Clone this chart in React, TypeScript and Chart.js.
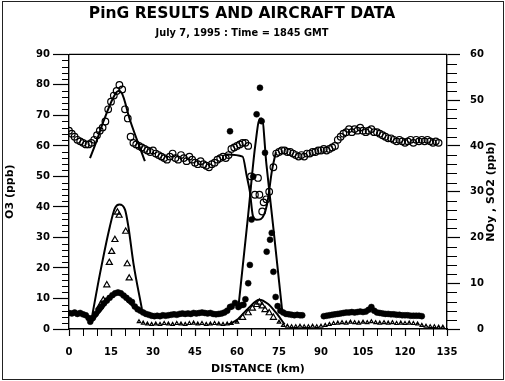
import React, { useEffect, useRef } from "react";
import { Chart, registerables } from "chart.js";

Chart.register(...registerables);

const TITLE = "PinG RESULTS AND AIRCRAFT DATA";
const SUBTITLE = "July 7, 1995 : Time = 1845 GMT";
const X_TITLE = "DISTANCE (km)";
const Y_LEFT_TITLE = "O3 (ppb)";
const Y_RIGHT_TITLE = "NOy , SO2 (ppb)";

const xMajorTicks = [0, 15, 30, 45, 60, 75, 90, 105, 120, 135];
const yLeftTicks = [0, 10, 20, 30, 40, 50, 60, 70, 80, 90];
const yRightTicks = [0, 10, 20, 30, 40, 50, 60];

// O3 aircraft measurements (open circles, left axis)
const o3Km = [
  0, 1, 2, 3, 4, 5, 6, 7, 8, 9, 10, 11, 12, 13, 14, 15, 16, 17, 18, 19, 20, 21, 22, 23, 24, 25,
  26, 27, 28, 29, 30, 31, 32, 33, 34, 35, 36, 37, 38, 39, 40, 41, 42, 43, 44, 45, 46, 47, 48, 49,
  50, 51, 52, 53, 54, 55, 56, 57, 58, 59, 60, 61, 62, 63, 64, 65, 66.4, 67.5, 68, 69, 69.5, 70.5,
  71.5, 73, 74, 75, 76, 77, 78, 79, 80, 81, 82, 83, 84, 85, 86, 87, 88, 89, 90, 91, 92, 93, 94,
  95, 96, 97, 98, 99, 100, 101, 102, 103, 104, 105, 106, 107, 108, 109, 110, 111, 112, 113, 114,
  115, 116, 117, 118, 119, 120, 121, 122, 123, 124, 125, 126, 127, 128, 129, 130, 131, 132,
];
const o3Val = [
  65, 64, 63, 62, 61.5, 61, 60.5, 60.5, 61, 62, 63.5, 65, 66, 68, 72, 74.5, 76.5, 78, 80, 78.5, 72,
  69, 63, 61, 60.5, 60, 59.5, 59, 58.5, 58, 58.5, 57.5, 57, 56.5, 56, 55.5, 56.5, 57.5, 56, 55.5,
  57, 56, 55, 56.5, 55.5, 54.5, 54, 55, 54, 53.5, 53, 54, 54.5, 55.5, 56, 56.5, 56, 57, 59, 59.5,
  60, 60.5, 61, 61, 60, 50, 44, 49.5, 44, 38.5, 41.5, 42.5, 45, 53, 57.5, 58, 58.5, 58.5, 58, 58,
  57.5, 57, 56.5, 57, 56.5, 57.5, 57.5, 58, 58, 58.5, 58.5, 59, 58.5, 59, 59.5, 60, 62, 63, 64,
  64.5, 65.5, 64.5, 65.5, 65, 66, 65, 64.5, 65, 65.5, 64.5, 64.5, 64, 63.5, 63, 62.5, 62.5, 62,
  61.5, 62, 61.5, 61, 61.5, 62, 61, 62, 61.5, 62, 61.5, 62, 61.5, 61, 61.5, 61,
];

// O3 model (solid line, left axis); null = break
const o3ModelKm = [7.5, 10, 12.3, 15.8, 17.6, 18.8, 21.8, 27.1, 40, 56, 62, 63.5, 64.6, 65.7, 67, 68.5, 70.7, 72.5, 73.9];
const o3ModelVal = [56, 62, 68, 75.8, 78, 77.4, 68.4, 55, null, 57.2, 56.5, 50, 45, 37, 35.8, 36, 40.7, 52, 58];

// NOy aircraft measurements (filled circles, right axis)
const noyKm = [
  0, 1, 2, 3, 4, 5, 6, 7, 7.6, 8.5, 9.5, 10.5, 11.5, 12.5, 13.5, 14.5, 15.5, 16.5, 17.5, 18.5,
  19.5, 20.5, 21.5, 22.5, 23.5, 24.5, 25.5, 26.5, 27.5, 28.5, 29.5, 30.5, 31.5, 32.5, 33.5, 34.5,
  35.5, 36.5, 37.5, 38.5, 39.5, 40.5, 41.5, 42.5, 43.5, 44.5, 45.5, 46.5, 47.5, 48.5, 49.5, 50.5,
  51.5, 52.5, 53.5, 54.5, 55.5, 56.5, 57.5, 58.1, 59.3, 60.5, 61.5, 62.3, 63, 64, 64.6, 65.2, 65.8,
  67, 68.2, 68.8, 70, 70.6, 71.8, 72.4, 73, 73.8, 74.5, 75.5, 76.5, 77.5, 78.5, 79.5, 80.5, 81.5,
  82.5, 83.3, 91, 92, 93, 94, 95, 96, 97, 98, 99, 100, 101, 102, 103, 104, 105, 106, 107, 108, 109,
  110, 111, 112, 113, 114, 115, 116, 117, 118, 119, 120, 121, 122, 123, 124, 125, 126, 57.5,
];
const noyVal = [
  3.5, 3.4, 3.6, 3.3, 3.5, 3.2, 3.0, 2.4, 1.6, 2.4, 3.3, 4.2, 4.9, 5.6, 6.2, 6.8, 7.4, 7.8, 8.0,
  7.8, 7.3, 6.8, 6.3, 5.9, 4.9, 4.3, 4.0, 3.6, 3.3, 3.1, 2.9, 2.8, 2.9, 2.8, 3.0, 2.9, 3.0, 3.1,
  3.2, 3.1, 3.3, 3.4, 3.3, 3.4, 3.3, 3.5, 3.4, 3.5, 3.6, 3.5, 3.4, 3.5, 3.3, 3.2, 3.3, 3.4, 3.6,
  4.0, 4.8, 4.9, 5.7, 4.8, 5.2, 5.3, 6.5, 10, 14, 23.9, 33.3, 46.9, 52.7, 45.4, 38.5, 16.9, 19.5,
  21, 12.5, 7, 5, 4, 3.6, 3.3, 3.2, 3.1, 3.0, 3.1, 3.0, 3.0, 2.8, 2.9, 3.0, 3.1, 3.2, 3.3, 3.4,
  3.5, 3.6, 3.6, 3.7, 3.6, 3.7, 3.8, 3.7, 3.8, 4.2, 4.8, 4.0, 3.6, 3.5, 3.4, 3.3, 3.3, 3.2, 3.2,
  3.1, 3.1, 3.0, 3.0, 3.0, 2.9, 2.9, 2.9, 2.9, 2.8, 43.2,
];

// NOy model (solid line, right axis)
const noyModelKm = [8.1, 10, 12, 15, 17.1, 19, 21, 24.3, 40, 60.4, 64, 66.5, 68.2, 68.9, 70.5, 73, 76.1];
const noyModelVal = [1.5, 3, 4.5, 7, 7.9, 7.5, 6, 4.2, null, 4.2, 25, 40, 46, 46, 36, 22, 4.2];

// SO2 aircraft measurements (open triangles, right axis)
const so2Km = [
  11.3, 12.25, 13.5, 14.4, 15.25, 16.4, 17.3, 17.9, 20.25, 20.8, 21.5,
  25, 26.5, 28, 29.5, 31, 32.5, 34, 35.5, 37, 38.5, 40, 41.5, 43, 44.5, 46, 47.5, 49, 50.5, 52,
  53.5, 55, 56.5, 58, 60, 62, 64, 65.5, 67, 68, 69, 70, 71.5, 73, 75, 76.5, 78, 79.5, 81, 82.5,
  84, 85.5, 87, 88.5, 90, 91.5, 93, 94.5, 96, 97.5, 99, 100.5, 102, 103.5, 105, 106.5, 108, 109.5,
  111, 112.5, 114, 115.5, 117, 118.5, 120, 121.5, 123, 124.5, 126, 127.5, 129, 130.5, 132, 133.5,
];
const so2Val = [
  5.3, 6.3, 9.6, 14.5, 16.9, 19.5, 25.5, 24.8, 21.3, 14.2, 11.1,
  1.6, 1.3, 1.1, 1.0, 1.1, 1.0, 1.2, 1.1, 1.0, 1.2, 1.1, 1.0, 1.2, 1.3, 1.1, 1.2, 1.0, 1.1, 1.2,
  1.1, 1.0, 1.1, 1.2, 1.5, 2.5, 3.5, 4.5, 5.3, 5.8, 5.0, 4.2, 3.5, 2.5, 1.5, 0.8, 0.6, 0.5, 0.5,
  0.6, 0.5, 0.5, 0.6, 0.5, 0.6, 0.8, 1.0, 1.2, 1.3, 1.4, 1.3, 1.5, 1.4, 1.3, 1.5, 1.4, 1.6, 1.4,
  1.3, 1.4, 1.3, 1.4, 1.2, 1.3, 1.2, 1.3, 1.2, 1.1, 0.8, 0.6, 0.5, 0.5, 0.4, 0.4,
];

// SO2 model (solid line, right axis)
const so2ModelKm = [8.1, 11.1, 14.6, 16.4, 18, 20, 21.2, 23, 26, 40, 57, 60, 64, 68, 71, 74, 77];
const so2ModelVal = [2.3, 12.2, 22.4, 26.4, 27.2, 26.1, 22.4, 14.4, 4.5, null, 1, 2, 4.5, 6.4, 5.5, 3.5, 1];

const FONT = '"DejaVu Sans", "Liberation Sans", Arial, sans-serif';

const pts = (xs: number[], ys: (number | null)[]) => xs.map((x, i) => ({ x, y: ys[i] }));

const decorPlugin = {
  id: "decor",
  afterDraw(chart: any) {
    const { ctx, chartArea: a, scales } = chart;
    ctx.save();
    ctx.strokeStyle = "#000";
    ctx.lineWidth = 1.4;
    ctx.beginPath();
    ctx.moveTo(a.left, a.top);
    ctx.lineTo(a.right, a.top);
    ctx.stroke();
    ctx.lineWidth = 1;
    ctx.beginPath();
    for (let v = 0; v <= 135; v += 5) {
      if (v % 15 === 0) continue;
      const px = Math.round(scales.x.getPixelForValue(v)) + 0.5;
      ctx.moveTo(px, a.bottom);
      ctx.lineTo(px, a.bottom + 7);
    }
    for (let v = 0; v <= 90; v += 2) {
      if (v % 10 === 0) continue;
      const py = Math.round(scales.y.getPixelForValue(v)) + 0.5;
      ctx.moveTo(a.left - 7, py);
      ctx.lineTo(a.left, py);
    }
    for (let v = 0; v <= 60; v += 2) {
      if (v % 10 === 0) continue;
      const py = Math.round(scales.y1.getPixelForValue(v)) + 0.5;
      ctx.moveTo(a.right, py);
      ctx.lineTo(a.right + 10, py);
    }
    ctx.stroke();
    ctx.fillStyle = "#000";
    ctx.font = `bold 11px ${FONT}`;
    ctx.textAlign = "center";
    ctx.textBaseline = "middle";
    ctx.save();
    ctx.translate(chart.width - 14, (a.top + a.bottom) / 2);
    ctx.rotate(-Math.PI / 2);
    ctx.fillText(Y_RIGHT_TITLE, 0, 0);
    ctx.restore();
    ctx.lineWidth = 1;
    ctx.strokeStyle = "#222";
    ctx.strokeRect(2.5, 1.5, chart.width - 4, chart.height - 3);
    ctx.restore();
  },
};

export default function App() {
  const ref = useRef<HTMLCanvasElement | null>(null);
  useEffect(() => {
    if (!ref.current) return;
    const black = "#000";
    const chart = new Chart(ref.current, {
      type: "line",
      data: {
        datasets: [
          {
            label: "O3 model",
            data: pts(o3ModelKm, o3ModelVal),
            yAxisID: "y",
            borderColor: black,
            borderWidth: 2,
            pointRadius: 0,
            spanGaps: false,
            cubicInterpolationMode: "monotone",
          },
          {
            label: "NOy model",
            data: pts(noyModelKm, noyModelVal),
            yAxisID: "y1",
            borderColor: black,
            borderWidth: 2,
            pointRadius: 0,
            spanGaps: false,
            cubicInterpolationMode: "monotone",
          },
          {
            label: "SO2 model",
            data: pts(so2ModelKm, so2ModelVal),
            yAxisID: "y1",
            borderColor: black,
            borderWidth: 2,
            pointRadius: 0,
            spanGaps: false,
            cubicInterpolationMode: "monotone",
          },
          {
            label: "O3",
            data: pts(o3Km, o3Val),
            yAxisID: "y",
            showLine: false,
            pointStyle: "circle",
            pointRadius: 3.3,
            pointBorderWidth: 1.2,
            pointBorderColor: black,
            pointBackgroundColor: "rgba(255,255,255,0)",
          },
          {
            label: "NOy",
            data: pts(noyKm, noyVal),
            yAxisID: "y1",
            showLine: false,
            pointStyle: "circle",
            pointRadius: 3,
            pointBorderWidth: 0.5,
            pointBorderColor: black,
            pointBackgroundColor: black,
          },
          {
            label: "SO2",
            data: pts(so2Km, so2Val),
            yAxisID: "y1",
            showLine: false,
            pointStyle: "triangle",
            pointRadius: (c: any) => ((c.raw && c.raw.y > 2) ? 3.5 : 2),
            pointBorderWidth: 1.2,
            pointBorderColor: black,
            pointBackgroundColor: "rgba(255,255,255,0)",
          },
        ],
      },
      options: {
        animation: false,
        responsive: false,
        devicePixelRatio: 1,
        layout: { padding: { left: 0, top: 0, bottom: 0, right: 21 } },
        plugins: {
          legend: { display: false },
          tooltip: { enabled: false },
          title: {
            display: true,
            text: TITLE,
            color: black,
            font: { family: FONT, size: 15.5, weight: "bold", lineHeight: 1.2 },
            padding: { top: 5, bottom: 2 },
          },
          subtitle: {
            display: true,
            text: SUBTITLE,
            color: black,
            font: { family: FONT, size: 9.8, weight: "bold", lineHeight: 1.2 },
            padding: { top: 2, bottom: 15 },
          },
        },
        scales: {
          x: {
            type: "linear",
            min: 0,
            max: 135,
            afterBuildTicks: (s: any) => {
              s.ticks = xMajorTicks.map((v) => ({ value: v }));
            },
            afterFit: (s: any) => {
              s.height = 52;
            },
            ticks: {
              color: black,
              font: { family: FONT, size: 10, weight: "bold" },
              padding: 10,
              maxRotation: 0,
              autoSkip: false,
            },
            grid: { drawOnChartArea: false, drawTicks: true, tickLength: 7, color: black, tickWidth: 1.2 },
            border: { display: true, color: black, width: 1.4 },
            title: {
              display: true,
              text: X_TITLE,
              color: black,
              font: { family: FONT, size: 11, weight: "bold", lineHeight: 1.2 },
              padding: { top: 0, bottom: 5 },
            },
          },
          y: {
            type: "linear",
            position: "left",
            min: 0,
            max: 90,
            afterBuildTicks: (s: any) => {
              s.ticks = yLeftTicks.map((v) => ({ value: v }));
            },
            afterFit: (s: any) => {
              s.width = 69;
            },
            ticks: {
              color: black,
              font: { family: FONT, size: 10, weight: "bold" },
              padding: 3,
            },
            grid: { drawOnChartArea: false, drawTicks: true, tickLength: 16, color: black, tickWidth: 1.2 },
            border: { display: true, color: black, width: 1.4 },
            title: {
              display: true,
              text: Y_LEFT_TITLE,
              color: black,
              font: { family: FONT, size: 11, weight: "bold", lineHeight: 1.2 },
              padding: { top: 4, bottom: 0 },
            },
          },
          y1: {
            type: "linear",
            position: "right",
            min: 0,
            max: 60,
            afterBuildTicks: (s: any) => {
              s.ticks = yRightTicks.map((v) => ({ value: v }));
            },
            afterFit: (s: any) => {
              s.width = 37;
            },
            ticks: {
              color: black,
              font: { family: FONT, size: 10, weight: "bold" },
              padding: 10,
              crossAlign: "far",
            },
            grid: { drawOnChartArea: false, drawTicks: true, tickLength: 13, color: black, tickWidth: 1.2 },
            border: { display: true, color: black, width: 1.4 },
          },
        },
      },
      plugins: [decorPlugin],
    } as any);
    return () => chart.destroy();
  }, []);
  return (
    <div style={{ position: "fixed", left: 0, top: 0, width: 505, height: 381, background: "#fff" }}>
      <canvas ref={ref} width={505} height={381} style={{ display: "block" }} />
    </div>
  );
}
